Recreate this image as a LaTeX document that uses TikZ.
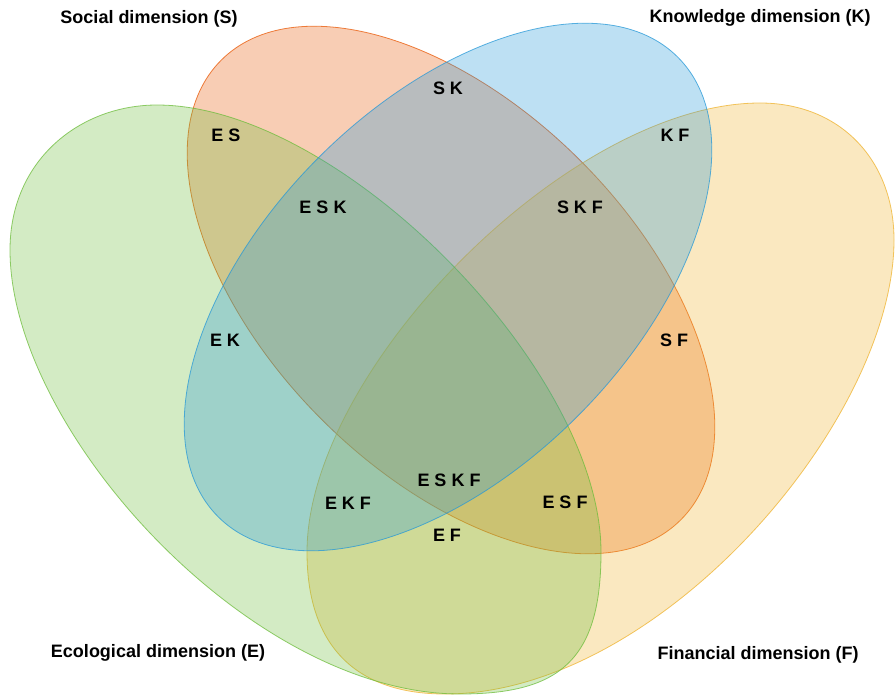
\documentclass[tikz,border=0pt]{standalone}
\usepackage{fontspec}
\setmainfont{Liberation Sans}
\definecolor{ecofill}{HTML}{6CBC3A}
\definecolor{socfill}{HTML}{E85805}
\definecolor{knofill}{HTML}{2698D7}
\definecolor{finfill}{HTML}{EEB22D}
\tikzset{
  blob/.style={line width=0.8pt,fill opacity=0.3,draw opacity=0.75},
  dim/.style={font=\fontsize{18}{21}\selectfont\bfseries,inner sep=1pt},
  reg/.style={dim},
}

\begin{document}
\begin{tikzpicture}[x=1pt,y=-1pt]
  \useasboundingbox (0,0) rectangle (896,695);
  \draw[blob,draw=socfill,fill=socfill,rotate around={-45:(451,290)}] (451,290) ellipse [x radius=325pt,y radius=183pt];
  \draw[blob,draw=finfill,fill=finfill] (760,103) .. controls (840,103) and (894,160) .. (894,240)
     .. controls (894,420) and (660,694) .. (445,694) .. controls (360,694) and (307,650) .. (307,552)
     .. controls (307,370) and (570,103) .. (760,103) -- cycle;
  \draw[blob,draw=ecofill,fill=ecofill] (157,105) .. controls (340,105) and (601,370) .. (601,552)
     .. controls (601,660) and (560,694) .. (460,694) .. controls (250,694) and (10,430) .. (10,250)
     .. controls (10,160) and (80,105) .. (157,105) -- cycle;
  \draw[blob,draw=knofill,fill=knofill,rotate around={45:(448,287)}] (448,287) ellipse [x radius=325pt,y radius=183pt];
  \node[dim] (soc) at (149,19) {Social dimension (S)};
  \node[dim] (kno) at (760,18) {Knowledge dimension (K)};
  \node[dim] (eco) at (158,653) {Ecological dimension (E)};
  \node[dim] (fin) at (758,655) {Financial dimension (F)};
  \foreach \n/\x/\y/\t in {sk/448/88/S K, es/226/135/E S, kf/675/135/K F, esk/323/207/E S K, skf/580/207/S K F,
    ek/225/340/E K, sf/674/340/S F, eskf/449/480/E S K F, ekf/348/503/E K F, esf/565/502/E S F, ef/447/535/E F}
    \node[reg] (\n) at (\x,\y) {\t};
\end{tikzpicture}
\end{document}
